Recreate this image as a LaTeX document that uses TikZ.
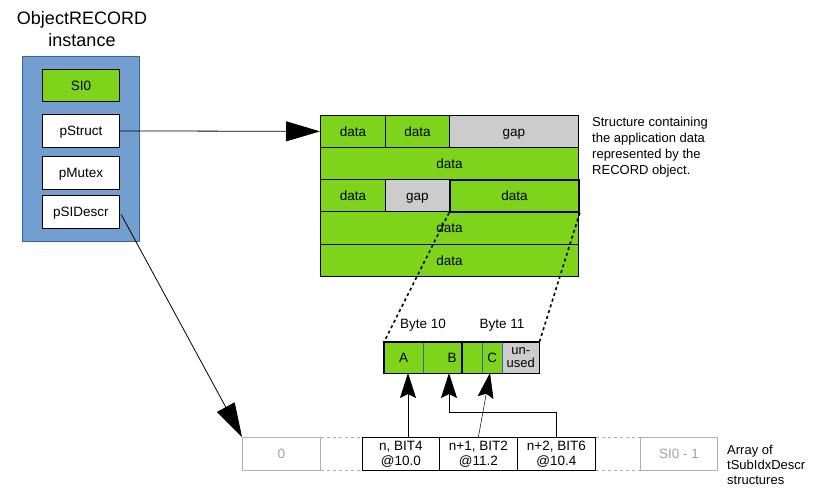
\documentclass[tikz,border=0pt]{standalone}
\usepackage{fontspec}
\setmainfont{Liberation Sans}
\usetikzlibrary{arrows.meta}
\definecolor{grn}{RGB}{126,212,26}
\definecolor{gapc}{RGB}{204,204,204}
\definecolor{blu}{RGB}{114,159,207}
\definecolor{bluborder}{RGB}{52,101,164}
\definecolor{dimtxt}{RGB}{160,160,160}
\definecolor{dimline}{RGB}{175,175,175}
\begin{document}
\begin{tikzpicture}[x=1pt,y=-1pt,
  font=\fontsize{13.5}{15}\selectfont,
  box/.style={draw, line width=0.8pt, anchor=north west, inner sep=0pt, align=center},
  oneline/.style={text height=11pt, text depth=1pt},
  gbox/.style={box, oneline, fill=grn},
  gapbox/.style={box, oneline, fill=gapc},
  dimbox/.style={box, oneline, draw=dimline, text=dimtxt},
  bigarrow/.style={line width=0.8pt, -{Triangle[length=34pt,width=20pt]}},
  smallarrow/.style={line width=0.8pt, -{Stealth[length=25pt,width=16pt,inset=4pt]}},
  dotline/.style={line width=1.6pt, dash pattern=on 3pt off 3pt},
  dimdash/.style={draw=dimline, line width=0.8pt, dash pattern=on 3pt off 3pt},
  plain/.style={inner sep=0pt, align=left}
]
\useasboundingbox (0,0) rectangle (840,496);

% ObjectRECORD instance
\node[align=center, font=\fontsize{18}{21.5}\selectfont] (title) at (82,29) {ObjectRECORD\\instance};
\node[draw=bluborder, fill=blu, line width=0.8pt, anchor=north west, minimum width=117, minimum height=185, inner sep=0pt] (obj) at (22,56) {};
\node[gbox, minimum width=77, minimum height=32] (si0) at (42,69) {SI0};
\node[box, oneline, fill=white, minimum width=77, minimum height=33] (pst) at (42,114) {pStruct};
\node[box, oneline, fill=white, minimum width=77, minimum height=33] (pmu) at (42,156) {pMutex};
\node[box, oneline, fill=white, minimum width=77, minimum height=33] (psi) at (42,195) {pSIDescr};

% Structure
\node[gbox, minimum width=65, minimum height=32] (r1a) at (320,115) {data};
\node[gbox, minimum width=64, minimum height=32] (r1b) at (385,115) {data};
\node[gapbox, minimum width=129, minimum height=32] (r1c) at (449,115) {gap};
\node[gbox, minimum width=258, minimum height=32] (r2) at (320,147) {data};
\node[gbox, minimum width=65, minimum height=32] (r3a) at (320,179) {data};
\node[gapbox, minimum width=64, minimum height=32] (r3b) at (385,179) {gap};
\node[gbox, minimum width=258, minimum height=33] (r4) at (320,211) {data};
\node[gbox, minimum width=258, minimum height=32] (r5) at (320,244) {data};
\node[gbox, line width=1.8pt, minimum width=129, minimum height=32] (r3c) at (449,179) {data};

\node[plain, anchor=north west, font=\fontsize{13}{16}\selectfont] (desc) at (592,117)
  {Structure containing\\the application data\\represented by the\\RECORD object.};

% Bytes
\node[anchor=north west, inner sep=0pt, oneline, fill=grn, minimum width=39, minimum height=31] (A) at (384,342) {A};
\node[anchor=north west, inner sep=0pt, fill=grn, minimum width=39, minimum height=31] (B) at (423,342) {};
\node[anchor=north west, inner sep=0pt, fill=grn, minimum width=20, minimum height=31] (b11) at (462,342) {};
\node[anchor=north west, inner sep=0pt, oneline, fill=grn, minimum width=20, minimum height=31] (C) at (482,342) {C};
\node[anchor=north west, inner sep=0pt, fill=gapc, minimum width=37, minimum height=31, align=center, font=\fontsize{13}{13}\selectfont] (un) at (502,342) {un-\\used};
\node[inner sep=0pt, oneline] (Btxt) at (452,357.5) {B};
\draw[bluborder, line width=0.6pt] (A.north east) -- (A.south east);
\draw[bluborder, line width=0.6pt] (b11.north east) -- (b11.south east);
\draw[bluborder, line width=0.6pt] (C.north east) -- (C.south east);
\draw[line width=1.8pt] (A.north west) rectangle (B.south east);
\draw[line width=1.8pt] (b11.north west) rectangle (un.south east);
\node (by10) at (423,325) {Byte 10};
\node (by11) at (502,325) {Byte 11};

% zoom lines
\draw[dotline] (r3c.south west) -- (A.north west);
\draw[dotline] (r3c.south east) -- (un.north east);

% Array
\node[dimbox, minimum width=78, minimum height=33] (z0) at (242,437) {0};
\node[box, minimum width=77, minimum height=33] (c1) at (362,437) {n, BIT4\\@10.0};
\node[box, minimum width=78, minimum height=33] (c2) at (439,437) {n+1, BIT2\\@11.2};
\node[box, minimum width=78, minimum height=33] (c3) at (517,437) {n+2, BIT6\\@10.4};
\node[dimbox, minimum width=77, minimum height=33] (zn) at (640,437) {SI0 - 1};
\draw[dimdash] (z0.north east) -- (c1.north west);
\draw[dimdash] (z0.south east) -- (c1.south west);
\draw[dimdash] (c3.north east) -- (zn.north west);
\draw[dimdash] (c3.south east) -- (zn.south west);
\node[plain, anchor=west, font=\fontsize{13}{15}\selectfont] (arr) at (727,465) {Array of\\tSubIdxDescr\\structures};

% connectors
\draw[bigarrow] (pst.east) -- (r1a.west);
\draw[bigarrow, shorten <=3pt] (psi.east) -- (z0.north west);

\coordinate (tipA) at (408,373);
\coordinate (tipB) at (449,373);
\coordinate (bendB) at (449,412);
\coordinate (tipC) at (490,373);
\draw[smallarrow] (tipA |- c1.north) -- (tipA);
\draw[smallarrow] (c3.north) |- (bendB) -- (tipB);
\draw[smallarrow, line width=0.5pt] (c2.north) -- (tipC);
\end{tikzpicture}
\end{document}
